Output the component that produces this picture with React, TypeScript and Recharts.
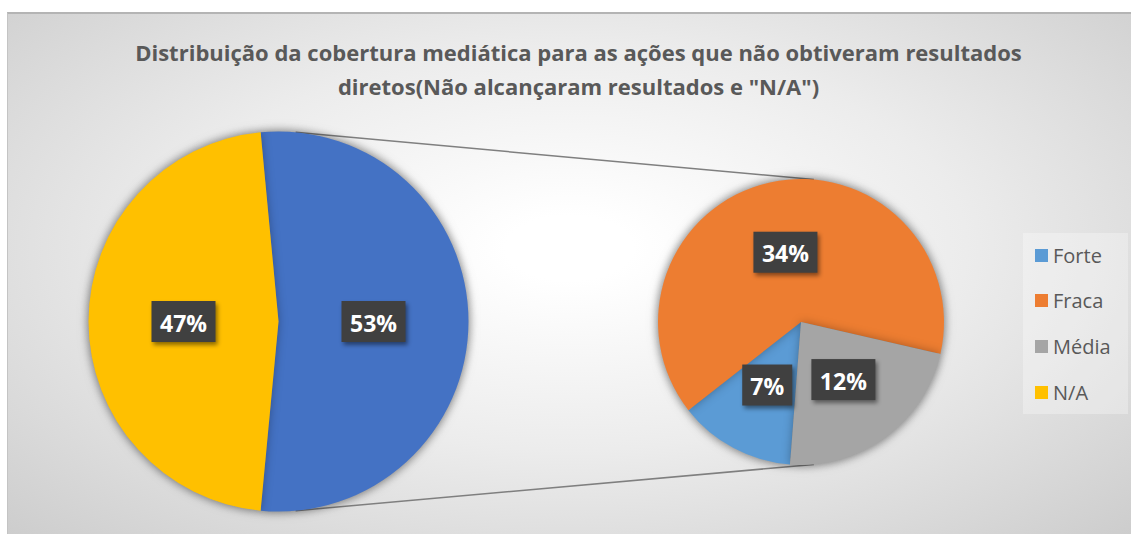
import React from 'react';
import { PieChart, Pie, Cell, Legend, Customized } from 'recharts';

const categories = ['Forte', 'Fraca', 'Média', 'N/A'];
const categoryColors = ['#5B9BD5', '#ED7D31', '#A5A5A5', '#FFC000'];
// second (small) pie: Forte, Fraca, Média
const secondaryValues = [7, 34, 12];
const naValue = 47;
const otherColor = '#4472C4';

const title1 = 'Distribuição da cobertura mediática para as ações que não obtiveram resultados';
const title2 = 'diretos(Não alcançaram resultados e "N/A")';

const W = 1124;
const H = 522;
const BIG = { cx: 270.5, cy: 309.5, r: 190 };
const SMALL = { cx: 793, cy: 310, r: 143 };
const RAD = Math.PI / 180;
const FONT = '"Open Sans", "Noto Sans", sans-serif';

const otherValue = secondaryValues.reduce((a, b) => a + b, 0);
const total = otherValue + naValue;

const mainData = [
  { name: 'Outros', value: otherValue, color: otherColor },
  { name: categories[3], value: naValue, color: categoryColors[3] },
];
const secondData = secondaryValues.map((v, i) => ({ name: categories[i], value: v, color: categoryColors[i] }));

// the "other" slice is centered on 3 o'clock
const mainStart = (otherValue / total) * 180;
const secondStart = 265.6;

const renderLabel = (props: any) => {
  const { cx, cy, midAngle, outerRadius, value } = props;
  const x = cx + (outerRadius / 2) * Math.cos(-midAngle * RAD);
  const y = cy + (outerRadius / 2) * Math.sin(-midAngle * RAD);
  const txt = Math.round((value / total) * 100) + '%';
  const w = txt.length > 2 ? 64 : 50;
  const h = 41;
  return (
    <g>
      <rect
        x={x - w / 2}
        y={y - h / 2}
        width={w}
        height={h}
        fill="#404040"
        style={{ filter: 'drop-shadow(2px 3px 2px rgba(0,0,0,0.45))' }}
      />
      <text
        x={x}
        y={y + 1}
        textAnchor="middle"
        dominantBaseline="central"
        fill="#ffffff"
        fontFamily={FONT}
        fontWeight={700}
        fontSize={23}
      >
        {txt}
      </text>
    </g>
  );
};

// external tangent lines between the two pies
const Connectors = () => {
  const d = SMALL.cx - BIG.cx;
  const phi = Math.acos((BIG.r - SMALL.r) / d);
  const pts = [1, -1].map(s => ({
    x1: BIG.cx + BIG.r * Math.cos(phi),
    y1: BIG.cy - s * BIG.r * Math.sin(phi),
    x2: SMALL.cx + SMALL.r * Math.cos(phi),
    y2: SMALL.cy - s * SMALL.r * Math.sin(phi),
  }));
  return (
    <g>
      {pts.map((p, i) => (
        <line key={i} {...p} stroke="#7F7F7F" strokeWidth={1.5} />
      ))}
    </g>
  );
};

const LegendContent = () => (
  <div style={{ width: 105, height: 181, background: 'rgba(255,255,255,0.3)', position: 'relative' }}>
    {categories.map((c, i) => (
      <div
        key={c}
        style={{
          position: 'absolute',
          left: 12,
          top: 22 + i * 45.7 - 12,
          height: 24,
          display: 'flex',
          alignItems: 'center',
          fontFamily: FONT,
          fontSize: 20,
          color: '#595959',
          whiteSpace: 'nowrap',
        }}
      >
        <span style={{ width: 13, height: 13, background: categoryColors[i], display: 'inline-block', marginRight: 5 }} />
        {c}
      </div>
    ))}
  </div>
);

export default function App() {
  return (
    <>
      <style>{'body{margin:0;overflow:hidden} .halo{filter:drop-shadow(0 0 5px rgba(0,0,0,0.3))}'}</style>
      <div
        style={{
          position: 'absolute',
          left: 7,
          top: 12,
          width: W,
          height: H,
          borderTop: '2px solid #b4b4b4',
          borderLeft: '1px solid #c4c4c4',
          boxSizing: 'border-box',
          background: 'radial-gradient(ellipse farthest-corner at 50% 45%, #ffffff 8%, #ececec 50%, #cdcdcd 100%)',
          overflow: 'hidden',
        }}
      >
        <div
          style={{
            position: 'absolute',
            left: 0,
            top: 21,
            width: 1141,
            textAlign: 'center',
            fontFamily: FONT,
            fontWeight: 700,
            fontSize: 22,
            lineHeight: '34px',
            color: '#595959',
          }}
        >
          {title1}
          <br />
          {title2}
        </div>
        <div style={{ position: 'absolute', left: 0, top: -2 }}>
          <PieChart width={W} height={H} margin={{ top: 0, right: 0, bottom: 0, left: 0 }}>
            <Customized component={Connectors} />
            <Pie
              data={mainData}
              dataKey="value"
              nameKey="name"
              cx={BIG.cx}
              cy={BIG.cy}
              outerRadius={BIG.r}
              startAngle={mainStart}
              endAngle={mainStart - 360}
              stroke="none"
              label={renderLabel}
              labelLine={false}
              className="halo"
              isAnimationActive={false}
            >
              {mainData.map(d => (
                <Cell key={d.name} fill={d.color} />
              ))}
            </Pie>
            <Pie
              data={secondData}
              dataKey="value"
              nameKey="name"
              cx={SMALL.cx}
              cy={SMALL.cy}
              outerRadius={SMALL.r}
              startAngle={secondStart}
              endAngle={secondStart - 360}
              stroke="none"
              label={renderLabel}
              labelLine={false}
              className="halo"
              isAnimationActive={false}
            >
              {secondData.map(d => (
                <Cell key={d.name} fill={d.color} />
              ))}
            </Pie>
            <Legend
              content={<LegendContent />}
              wrapperStyle={{ position: 'absolute', left: 1015, top: 221, width: 105, height: 181 }}
            />
          </PieChart>
        </div>
      </div>
    </>
  );
}
